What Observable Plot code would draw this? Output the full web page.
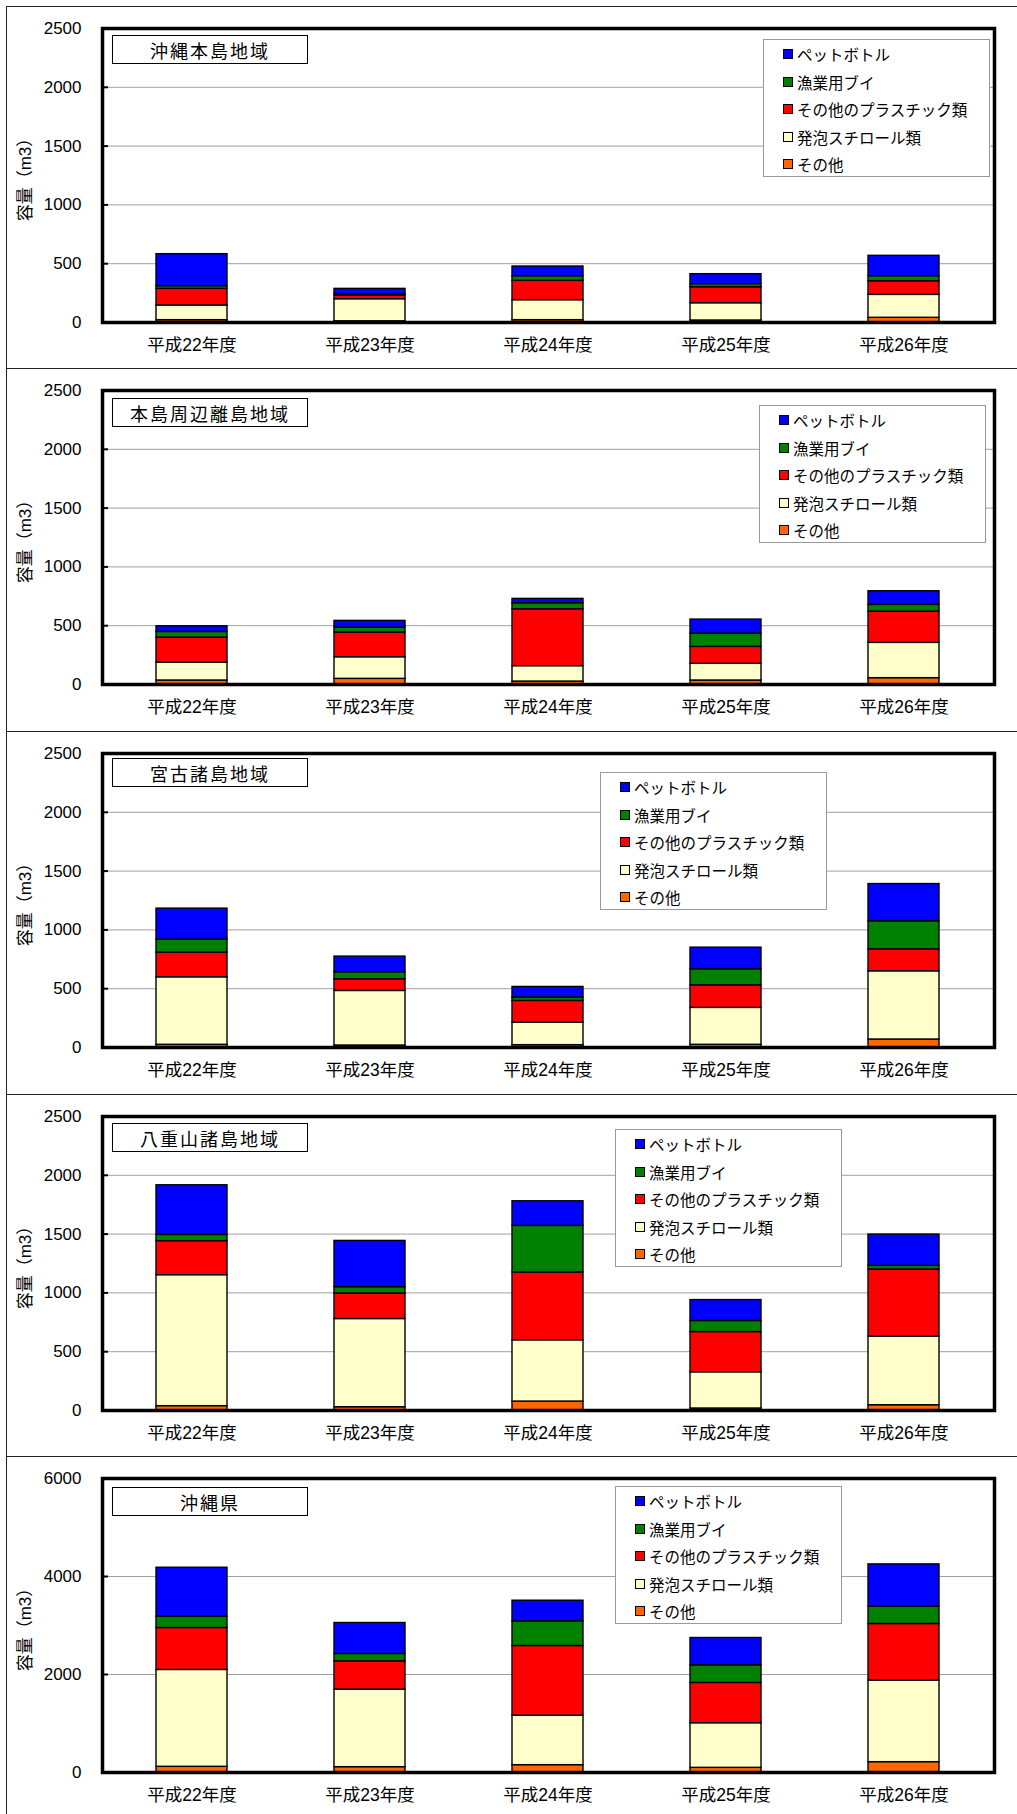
<!DOCTYPE html>
<html><head><meta charset="utf-8">
<script src="https://cdn.jsdelivr.net/npm/d3@7"></script>
<script src="https://cdn.jsdelivr.net/npm/@observablehq/plot@0.6"></script>
<style>
body{margin:0;background:#fff;}
#root{position:relative;width:1017px;height:1814px;overflow:hidden;font-family:"Liberation Sans","Noto Sans CJK JP",sans-serif;color:#000;}
.hline{position:absolute;left:6px;right:0;height:0;border-top:1px solid #222;}
.vline{position:absolute;left:6px;top:6px;bottom:0;width:0;border-left:1px solid #222;}
.panel{position:absolute;left:0;width:1017px;height:362px;}
.panel svg{position:absolute;left:0;top:0;}
.title{position:absolute;left:112px;width:196px;height:29px;border:1px solid #000;background:#fff;display:flex;align-items:center;justify-content:center;font-family:"Noto Sans CJK JP",sans-serif;font-size:18px;letter-spacing:2px;box-sizing:border-box;}
.legend{position:absolute;width:227px;height:138px;border:1px solid #999;background:#fff;box-sizing:border-box;font-family:"Noto Sans CJK JP",sans-serif;}
.item{position:absolute;left:19px;height:22px;display:flex;align-items:center;font-size:15.5px;white-space:nowrap;}
.sw{width:8px;height:8px;border:1px solid #000;margin-right:4px;flex:none;}
</style>
</head><body>
<div id="root"></div>
<script>
// ---- data ----
const years = ["平成22年度","平成23年度","平成24年度","平成25年度","平成26年度"];
// stacking order, bottom first
const categories = ["その他","発泡スチロール類","その他のプラスチック類","漁業用ブイ","ペットボトル"];
const colors = ["#ff6600","#ffffcc","#ff0000","#008000","#0000ff"];
const legendOrder = ["ペットボトル","漁業用ブイ","その他のプラスチック類","発泡スチロール類","その他"];
const regionNames = ["沖縄本島地域","本島周辺離島地域","宮古諸島地域","八重山諸島地域","沖縄県"];
const yLabel = "容量（m3）";

// values per category (bottom first), per year
const okinawaHonto = [
  [20, 10, 20, 17, 40],
  [125, 188, 170, 147, 195],
  [141, 32, 164, 136, 116],
  [23, 11, 40, 26, 43],
  [272, 45, 82, 85, 173]
];
const hontoRito = [
  [34, 48, 25, 34, 54],
  [153, 184, 131, 142, 300],
  [212, 210, 484, 144, 266],
  [48, 42, 51, 113, 57],
  [48, 57, 37, 119, 116]
];
const miyako = [
  [23, 17, 20, 23, 68],
  [574, 464, 192, 314, 580],
  [210, 99, 184, 192, 187],
  [110, 60, 29, 136, 238],
  [264, 133, 90, 184, 317]
];
const yaeyama = [
  [37, 28, 76, 17, 45],
  [1114, 750, 521, 308, 583],
  [289, 217, 577, 342, 571],
  [53, 54, 396, 94, 31],
  [422, 393, 209, 178, 266]
];
const okinawaKen = [
  [116, 109, 150, 95, 211],
  [1977, 1583, 1012, 911, 1664],
  [856, 577, 1420, 822, 1156],
  [231, 150, 503, 360, 353],
  [999, 632, 421, 557, 863]
];
const regionValues = [okinawaHonto, hontoRito, miyako, yaeyama, okinawaKen];
const yMax = [2500, 2500, 2500, 2500, 6000];
const yTicks = [
  [0,500,1000,1500,2000,2500],
  [0,500,1000,1500,2000,2500],
  [0,500,1000,1500,2000,2500],
  [0,500,1000,1500,2000,2500],
  [0,2000,4000,6000]
];

// ---- layout ----
const panelTop = [6, 368, 731, 1094, 1456];
const titleTop = [29, 30, 27, 29, 31];
const legendPos = [[763,33],[759,37],[600,41],[615,35],[615,30]];

const root = document.getElementById("root");
function addDiv(cls, css){ const d=document.createElement("div"); d.className=cls; Object.assign(d.style, css||{}); root.appendChild(d); return d; }

regionNames.forEach((name, i) => {
  const data = [];
  categories.forEach((c, ci) => years.forEach((y, yi) => data.push({year:y, cat:c, value:regionValues[i][ci][yi]})));
  const panel = document.createElement("div");
  panel.className = "panel";
  panel.style.top = panelTop[i] + "px";
  const chart = Plot.plot({
    width: 1017, height: 362,
    marginLeft: 102, marginRight: 23, marginTop: 22, marginBottom: 46,
    style: {fontFamily: '"Liberation Sans","Noto Sans CJK JP",sans-serif', fontSize: "16px", color: "#000", background: "transparent", overflow: "visible"},
    x: {domain: years, paddingInner: 0.6, paddingOuter: 0.3, axis: null},
    y: {domain: [0, yMax[i]], axis: null},
    color: {domain: categories, range: colors},
    marks: [
      Plot.gridY(yTicks[i], {stroke: "#a0a0a0", strokeOpacity: 1, strokeWidth: 1}),
      Plot.barY(data, {x: "year", y: "value", fill: "cat", z: "cat", order: categories, stroke: "#000", strokeWidth: 1.4}),
      Plot.axisY(yTicks[i], {tickSize: 0, tickPadding: 21, fontSize: 17, tickFormat: d => String(d), label: yLabel, labelAnchor: "center", labelOffset: 84, labelArrow: "none"}),
      Plot.axisY(yTicks[i], {tickSize: 6, dx: 6, tickFormat: () => "", label: null, stroke: "#000", strokeWidth: 2}),
      Plot.axisX({tickSize: 0, tickPadding: 16, fontSize: 17.5, label: null}),
      Plot.frame({stroke: "#000", strokeWidth: 3.5})
    ]
  });
  panel.appendChild(chart);
  root.appendChild(panel);

  const t = document.createElement("div");
  t.className = "title";
  t.style.top = titleTop[i] + "px";
  t.textContent = name;
  panel.appendChild(t);

  const lg = document.createElement("div");
  lg.className = "legend";
  lg.style.left = legendPos[i][0] + "px";
  lg.style.top = legendPos[i][1] + "px";
  legendOrder.forEach((c, k) => {
    const it = document.createElement("div");
    it.className = "item";
    it.style.top = (3 + k * 27.5) + "px";
    const sw = document.createElement("div");
    sw.className = "sw";
    sw.style.background = colors[categories.indexOf(c)];
    it.appendChild(sw);
    const tx = document.createElement("span");
    tx.textContent = c;
    it.appendChild(tx);
    lg.appendChild(it);
  });
  panel.appendChild(lg);
});

// frame lines
addDiv("vline");
[6, 368, 731, 1094, 1456].forEach(y => addDiv("hline", {top: y + "px"}));
</script>
</body></html>
